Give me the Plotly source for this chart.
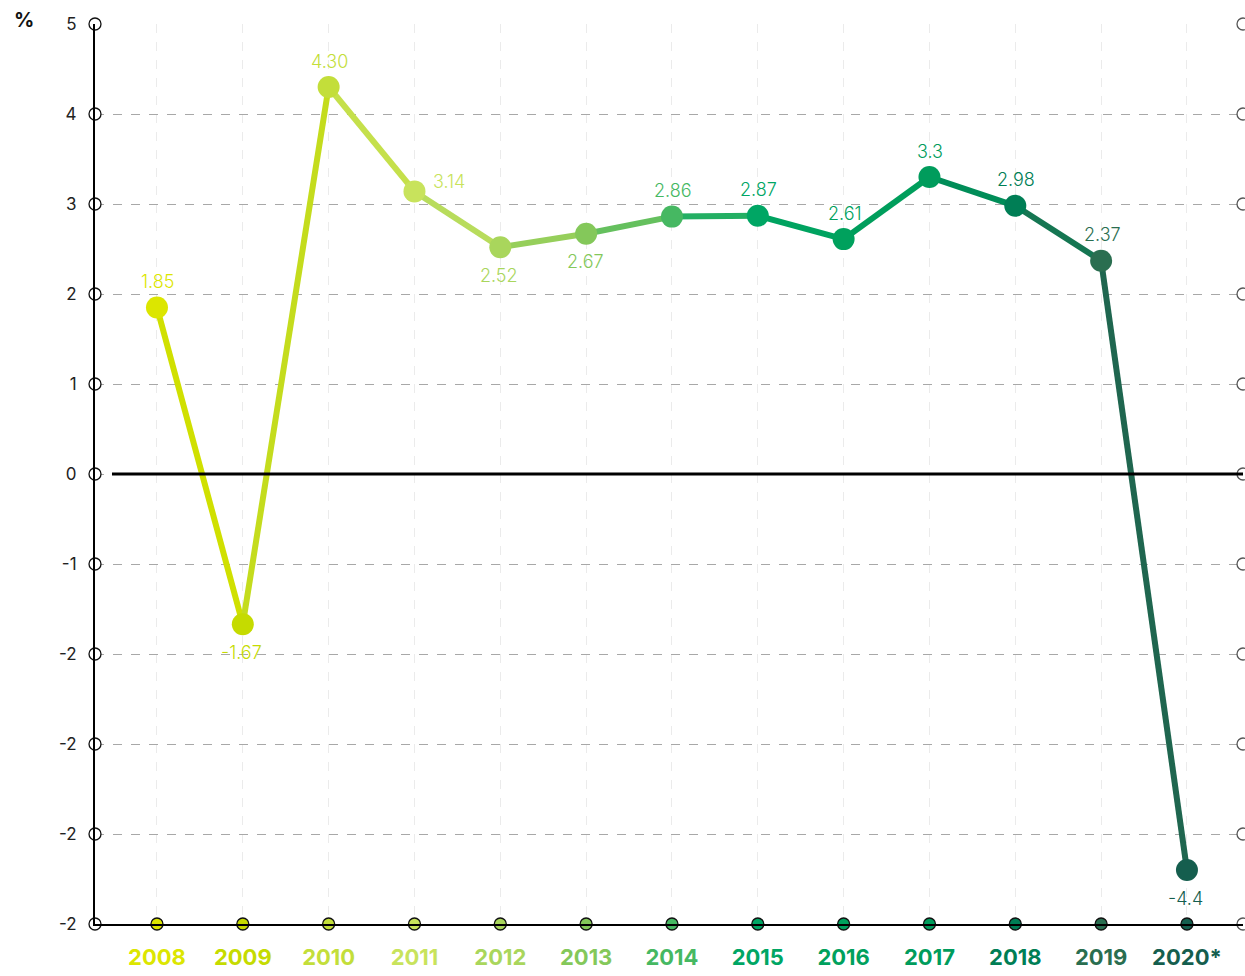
import plotly.graph_objects as go

# Annual change, %
years = ["2008", "2009", "2010", "2011", "2012", "2013", "2014",
         "2015", "2016", "2017", "2018", "2019", "2020*"]
values = [1.85, -1.67, 4.30, 3.14, 2.52, 2.67, 2.86, 2.87, 2.61, 3.3, 2.98, 2.37, -4.4]
value_labels = ["1.85", "-1.67", "4.30", "3.14", "2.52", "2.67", "2.86",
                "2.87", "2.61", "3.3", "2.98", "2.37", "-4.4"]
label_side = ["above", "below", "above", "right", "below", "below", "above",
              "above", "above", "above", "above", "above", "below"]
colors = ["#DCE600", "#C5DB00", "#C3DE3A", "#C8E35C", "#A9D65C", "#84C85A", "#46B862",
          "#00A664", "#00A15D", "#009C5C", "#007E55", "#2A6E50", "#155E4E"]

y_tick_vals = [5, 4, 3, 2, 1, 0, -1, -2, -3, -4, -5]
y_tick_text = ["5", "4", "3", "2", "1", "0", "-1", "-2", "-2", "-2", "-2"]

X_MIN, X_MAX = -0.722, 12.653
Y_MIN, Y_MAX = -5, 5
FONT = "Inter"

xs = list(range(len(years)))


def mix(c1, c2):
    a = [int(c1[i:i + 2], 16) for i in (1, 3, 5)]
    b = [int(c2[i:i + 2], 16) for i in (1, 3, 5)]
    return "#" + "".join(f"{(p + q) // 2:02X}" for p, q in zip(a, b))


fig = go.Figure()

# line segments, each tinted between its two end colours
for i in range(len(xs) - 1):
    fig.add_trace(go.Scatter(
        x=[xs[i], xs[i + 1]], y=[values[i], values[i + 1]],
        mode="lines", line=dict(color=mix(colors[i], colors[i + 1]), width=6),
        hoverinfo="skip", showlegend=False,
    ))

# data points
fig.add_trace(go.Scatter(
    x=xs, y=values, mode="markers",
    marker=dict(size=22, color=colors, line=dict(width=0)),
    showlegend=False, cliponaxis=False,
))

# circle ticks on the left axis
fig.add_trace(go.Scatter(
    x=[X_MIN] * len(y_tick_vals), y=y_tick_vals, mode="markers",
    marker=dict(size=12, color="white", line=dict(color="#111111", width=1.3)),
    showlegend=False, cliponaxis=False, hoverinfo="skip",
))
# circle ticks on the right edge
fig.add_trace(go.Scatter(
    x=[X_MAX] * len(y_tick_vals), y=y_tick_vals, mode="markers",
    marker=dict(size=12, color="white", line=dict(color="#555555", width=1.3)),
    showlegend=False, cliponaxis=False, hoverinfo="skip",
))
# coloured circle ticks on the bottom axis
fig.add_trace(go.Scatter(
    x=xs, y=[Y_MIN] * len(xs), mode="markers",
    marker=dict(size=12, color=colors, line=dict(color="#111111", width=1.3)),
    showlegend=False, cliponaxis=False, hoverinfo="skip",
))

# value labels
for x, v, txt, side, c in zip(xs, values, value_labels, label_side, colors):
    if side == "above":
        kw = dict(yanchor="middle", yshift=26, xshift=1)
    elif side == "below":
        kw = dict(yanchor="middle", yshift=-28, xshift=-1)
    else:
        kw = dict(yanchor="middle", yshift=10, xshift=35)
    fig.add_annotation(
        x=x, y=v, text=txt, showarrow=False, xanchor="center",
        font=dict(family=FONT, size=18, color=c, weight=300), **kw,
    )

# percent sign above the axis
fig.add_annotation(
    x=-0.062, y=1.004, xref="paper", yref="paper", text="<b>%</b>",
    showarrow=False, xanchor="center", yanchor="middle",
    font=dict(family=FONT, size=20, color="#111111"),
)

# zero reference line
fig.add_shape(
    type="line", xref="x", yref="y", x0=-0.524, x1=X_MAX, y0=0, y1=0,
    line=dict(color="#000000", width=3), layer="above",
)

x_tick_text = [f"<b><span style='color:{c}'>{y}</span></b>" for y, c in zip(years, colors)]

fig.update_layout(
    width=1245, height=976,
    margin=dict(l=95, r=2, t=24, b=52),
    paper_bgcolor="white", plot_bgcolor="white",
    font=dict(family=FONT, color="#222222"),
    showlegend=False,
    xaxis=dict(
        range=[X_MIN, X_MAX], tickvals=xs, ticktext=x_tick_text,
        showgrid=True, gridcolor="#EBEBEB", griddash="dash", gridwidth=1,
        showline=True, linecolor="#000000", linewidth=2,
        ticks="outside", ticklen=13, tickcolor="rgba(0,0,0,0)",
        tickfont=dict(family=FONT, size=22),
        zeroline=False, fixedrange=True,
    ),
    yaxis=dict(
        range=[Y_MIN, Y_MAX], tickvals=y_tick_vals, ticktext=y_tick_text,
        showgrid=True, gridcolor="#A8A8A8", griddash="dash", gridwidth=1,
        showline=True, linecolor="#000000", linewidth=2,
        ticks="outside", ticklen=13, tickcolor="rgba(0,0,0,0)",
        tickfont=dict(family=FONT, size=17, color="#222222"),
        zeroline=False, fixedrange=True,
    ),
)

fig.write_html("out.html", config={"displayModeBar": False})
